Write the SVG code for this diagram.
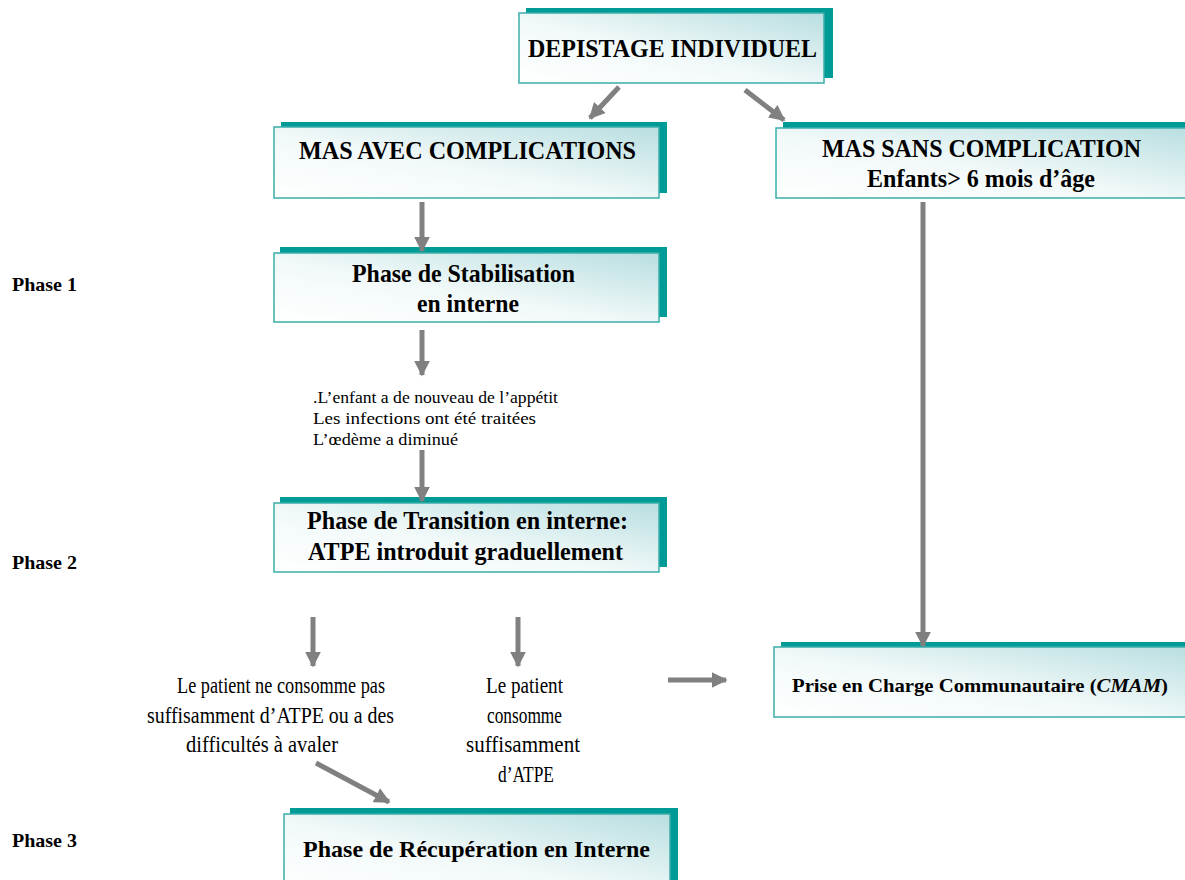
<svg xmlns="http://www.w3.org/2000/svg" width="1185" height="880" viewBox="0 0 1185 880">
<defs>
<linearGradient id="g" x1="0" y1="1" x2="1" y2="0">
<stop offset="0" stop-color="#ffffff"/>
<stop offset="0.45" stop-color="#f2f9f9"/>
<stop offset="1" stop-color="#b8dee0"/>
</linearGradient>
<marker id="ah" viewBox="0 0 10 10" refX="9" refY="5" markerWidth="3.2" markerHeight="3.2" orient="auto" markerUnits="strokeWidth">
<path d="M0,0 L10,5 L0,10 z" fill="#808080"/>
</marker>
</defs>
<style>
.sh{fill:#009b96}
.bx{fill:url(#g);stroke:#3aaeaa;stroke-width:1.5}
.t{font-family:"Liberation Serif","Times New Roman",serif;font-weight:bold;fill:#000}
.r{font-family:"Liberation Serif","Times New Roman",serif;fill:#000}
.c{stroke:#808080;stroke-width:5;fill:none;marker-end:url(#ah)}
</style>
<rect width="1185" height="880" fill="#fff"/>
<g id="n-depistage">
<rect class="sh" x="526" y="8" width="307" height="70"/>
<rect class="bx" x="519" y="13" width="305" height="70"/>
<text class="t" x="528" y="57" font-size="25" textLength="289" lengthAdjust="spacingAndGlyphs">DEPISTAGE  INDIVIDUEL</text>
</g>
<g id="n-avec">
<rect class="sh" x="281" y="122" width="386" height="71"/>
<rect class="bx" x="274" y="127" width="385" height="71"/>
<text class="t" x="299" y="159" font-size="25" textLength="337" lengthAdjust="spacingAndGlyphs">MAS AVEC  COMPLICATIONS</text>
</g>
<g id="n-sans">
<rect class="sh" x="783" y="122" width="410" height="71"/>
<rect class="bx" x="776" y="128" width="420" height="70"/>
<text class="t" x="822" y="157" font-size="25" textLength="319" lengthAdjust="spacingAndGlyphs">MAS SANS  COMPLICATION</text>
<text class="t" x="867" y="187" font-size="25" textLength="228" lengthAdjust="spacingAndGlyphs">Enfants&gt; 6 mois d’âge</text>
</g>
<g id="n-stab">
<rect class="sh" x="280" y="247" width="387" height="70"/>
<rect class="bx" x="274" y="253" width="385" height="69"/>
<text class="t" x="352" y="282" font-size="25" textLength="223" lengthAdjust="spacingAndGlyphs">Phase de Stabilisation</text>
<text class="t" x="417" y="312" font-size="25" textLength="102" lengthAdjust="spacingAndGlyphs">en interne</text>
</g>
<g id="n-trans">
<rect class="sh" x="280" y="497" width="387" height="70"/>
<rect class="bx" x="274" y="503" width="385" height="69"/>
<text class="t" x="307" y="529" font-size="25" textLength="321" lengthAdjust="spacingAndGlyphs">Phase de Transition  en interne:</text>
<text class="t" x="308" y="560" font-size="25" textLength="315" lengthAdjust="spacingAndGlyphs">ATPE introduit  graduellement</text>
</g>
<g id="n-cmam">
<rect class="sh" x="781" y="642" width="420" height="70"/>
<rect class="bx" x="774" y="647" width="420" height="70"/>
<text class="t" x="792" y="692" font-size="19" textLength="376" lengthAdjust="spacingAndGlyphs">Prise en Charge Communautaire (<tspan font-style="italic">CMAM</tspan>)</text>
</g>
<g id="n-recup">
<rect class="sh" x="290" y="808" width="388" height="80"/>
<rect class="bx" x="284" y="814" width="386" height="80"/>
<text class="t" x="303" y="857" font-size="23" textLength="347" lengthAdjust="spacingAndGlyphs">Phase de Récupération en Interne</text>
</g>
<g id="labels">
<text class="t" x="12" y="291" font-size="19" textLength="65" lengthAdjust="spacingAndGlyphs">Phase 1</text>
<text class="t" x="12" y="569" font-size="19" textLength="65" lengthAdjust="spacingAndGlyphs">Phase 2</text>
<text class="t" x="12" y="847" font-size="19" textLength="65" lengthAdjust="spacingAndGlyphs">Phase 3</text>
<text class="r" x="313" y="403" font-size="16" textLength="245" lengthAdjust="spacingAndGlyphs">.L’enfant a de nouveau de l’appétit</text>
<text class="r" x="313" y="424" font-size="16" textLength="223" lengthAdjust="spacingAndGlyphs">Les infections ont été traitées</text>
<text class="r" x="313" y="445" font-size="16" textLength="145" lengthAdjust="spacingAndGlyphs">L’œdème a diminué</text>
<text class="r" x="177" y="693" font-size="23" textLength="208" lengthAdjust="spacingAndGlyphs">Le patient  ne consomme pas</text>
<text class="r" x="147" y="723" font-size="23" textLength="247" lengthAdjust="spacingAndGlyphs">suffisamment  d’ATPE ou a des</text>
<text class="r" x="186" y="752" font-size="23" textLength="152" lengthAdjust="spacingAndGlyphs">difficultés  à avaler</text>
<text class="r" x="486" y="693" font-size="23" textLength="77" lengthAdjust="spacingAndGlyphs">Le patient</text>
<text class="r" x="487" y="723" font-size="23" textLength="75" lengthAdjust="spacingAndGlyphs">consomme</text>
<text class="r" x="466" y="752" font-size="23" textLength="114" lengthAdjust="spacingAndGlyphs">suffisamment</text>
<text class="r" x="498" y="782" font-size="23" textLength="56" lengthAdjust="spacingAndGlyphs">d’ATPE</text>
</g>
<g id="connectors">
<line class="c" x1="619" y1="87" x2="590" y2="118"/>
<line class="c" x1="745" y1="90" x2="784" y2="120"/>
<line class="c" x1="422" y1="202" x2="422" y2="251"/>
<line class="c" x1="422" y1="330" x2="422" y2="375"/>
<line class="c" x1="422" y1="450" x2="422" y2="501"/>
<line class="c" x1="923" y1="202" x2="923" y2="646"/>
<line class="c" x1="313" y1="617" x2="313" y2="666"/>
<line class="c" x1="518" y1="617" x2="518" y2="666"/>
<line class="c" x1="668" y1="680" x2="726" y2="680"/>
<line class="c" x1="316" y1="763" x2="389" y2="802"/>
</g>
</svg>
